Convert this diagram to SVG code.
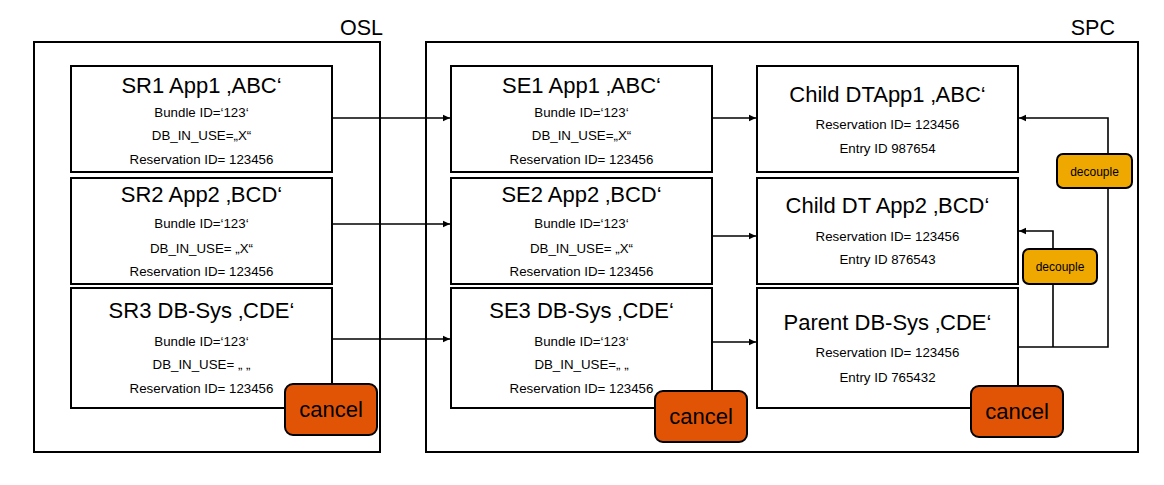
<svg xmlns="http://www.w3.org/2000/svg" width="1164" height="485" viewBox="0 0 1164 485">
<style>
text{font-family:"Liberation Sans",Arial,sans-serif;fill:#000}
.frame{fill:none;stroke:#000;stroke-width:2}
.box{fill:#fff;stroke:#000;stroke-width:2}
.t{font-size:22px;text-anchor:middle}
.s{font-size:13.3px;text-anchor:middle}
.lbl{font-size:21.5px;text-anchor:end}
.cancel{fill:#E25405;stroke:#000;stroke-width:2}
.dec{fill:#EFA800;stroke:#000;stroke-width:2}
.ct{font-size:22px;text-anchor:middle}
.dt{font-size:12px;text-anchor:middle}
.c{fill:none;stroke:#000;stroke-width:1.6}
</style>
<defs>
<marker id="ah" markerWidth="8" markerHeight="8" refX="7" refY="4" orient="auto" markerUnits="userSpaceOnUse">
<path d="M0,0.8 L7,4 L0,7.2 z" fill="#000"/>
</marker>
</defs>
<rect width="1164" height="485" fill="#fff"/>
<g id="OSL">
<rect class="frame" x="34" y="42" width="346" height="410"/>
<text class="lbl" x="383" y="35">OSL</text>
</g>
<g id="SPC">
<rect class="frame" x="426" y="42" width="712" height="410"/>
<text class="lbl" x="1115" y="35">SPC</text>
</g>
<g id="connectors">
<line class="c" x1="332" y1="118" x2="450" y2="118" marker-end="url(#ah)"/>
<line class="c" x1="332" y1="224" x2="450" y2="224" marker-end="url(#ah)"/>
<line class="c" x1="332" y1="339" x2="450" y2="339" marker-end="url(#ah)"/>
<line class="c" x1="712" y1="118" x2="756" y2="118" marker-end="url(#ah)"/>
<line class="c" x1="712" y1="236" x2="756" y2="236" marker-end="url(#ah)"/>
<line class="c" x1="712" y1="342" x2="756" y2="342" marker-end="url(#ah)"/>
<polyline class="c" points="1018,347 1108,347 1108,118 1019,118" marker-end="url(#ah)"/>
<polyline class="c" points="1053,347 1053,231 1019,231" marker-end="url(#ah)"/>
</g>
<g id="SR1">
<rect class="box" x="71" y="66" width="261" height="106"/>
<text class="t" x="201.5" y="93">SR1 App1 ‚ABC‘</text>
<text class="s" x="201.5" y="117">Bundle ID=‘123‘</text>
<text class="s" x="201.5" y="140">DB_IN_USE=„X“</text>
<text class="s" x="201.5" y="164">Reservation ID= 123456</text>
</g>
<g id="SR2">
<rect class="box" x="71" y="178" width="261" height="106"/>
<text class="t" x="201.5" y="202">SR2 App2 ‚BCD‘</text>
<text class="s" x="201.5" y="228">Bundle ID=‘123‘</text>
<text class="s" x="201.5" y="253">DB_IN_USE= „X“</text>
<text class="s" x="201.5" y="276">Reservation ID= 123456</text>
</g>
<g id="SR3">
<rect class="box" x="71" y="288" width="261" height="120"/>
<text class="t" x="201.5" y="318">SR3 DB-Sys ‚CDE‘</text>
<text class="s" x="201.5" y="346">Bundle ID=‘123‘</text>
<text class="s" x="201.5" y="369">DB_IN_USE= „ „</text>
<text class="s" x="201.5" y="393">Reservation ID= 123456</text>
</g>
<g id="SE1">
<rect class="box" x="451" y="66" width="261" height="106"/>
<text class="t" x="581.5" y="93">SE1 App1 ‚ABC‘</text>
<text class="s" x="581.5" y="117">Bundle ID=‘123‘</text>
<text class="s" x="581.5" y="140">DB_IN_USE=„X“</text>
<text class="s" x="581.5" y="164">Reservation ID= 123456</text>
</g>
<g id="SE2">
<rect class="box" x="451" y="178" width="261" height="106"/>
<text class="t" x="581.5" y="202">SE2 App2 ‚BCD‘</text>
<text class="s" x="581.5" y="228">Bundle ID=‘123‘</text>
<text class="s" x="581.5" y="253">DB_IN_USE= „X“</text>
<text class="s" x="581.5" y="276">Reservation ID= 123456</text>
</g>
<g id="SE3">
<rect class="box" x="451" y="288" width="261" height="120"/>
<text class="t" x="581.5" y="318">SE3 DB-Sys ‚CDE‘</text>
<text class="s" x="581.5" y="346">Bundle ID=‘123‘</text>
<text class="s" x="581.5" y="369">DB_IN_USE=„ „</text>
<text class="s" x="581.5" y="393">Reservation ID= 123456</text>
</g>
<g id="Child1">
<rect class="box" x="757" y="66" width="261" height="106"/>
<text class="t" x="887.5" y="102">Child DTApp1 ‚ABC‘</text>
<text class="s" x="887.5" y="129">Reservation ID= 123456</text>
<text class="s" x="887.5" y="153">Entry ID 987654</text>
</g>
<g id="Child2">
<rect class="box" x="757" y="178" width="261" height="106"/>
<text class="t" x="887.5" y="213">Child DT App2 ‚BCD‘</text>
<text class="s" x="887.5" y="241">Reservation ID= 123456</text>
<text class="s" x="887.5" y="264">Entry ID 876543</text>
</g>
<g id="Parent">
<rect class="box" x="757" y="288" width="261" height="120"/>
<text class="t" x="887.5" y="330">Parent DB-Sys ‚CDE‘</text>
<text class="s" x="887.5" y="357">Reservation ID= 123456</text>
<text class="s" x="887.5" y="382">Entry ID 765432</text>
</g>
<g id="decouple1">
<rect class="dec" x="1057" y="154" width="75" height="34" rx="6"/>
<text class="dt" x="1094.5" y="176">decouple</text>
</g>
<g id="decouple2">
<rect class="dec" x="1023" y="249" width="74" height="35" rx="6"/>
<text class="dt" x="1060" y="271">decouple</text>
</g>
<g id="cancel1">
<rect class="cancel" x="285" y="384" width="92" height="51" rx="8"/>
<text class="ct" x="331" y="417">cancel</text>
</g>
<g id="cancel2">
<rect class="cancel" x="655" y="391" width="92" height="51" rx="8"/>
<text class="ct" x="701" y="424">cancel</text>
</g>
<g id="cancel3">
<rect class="cancel" x="971" y="386" width="92" height="51" rx="8"/>
<text class="ct" x="1017" y="419">cancel</text>
</g>
</svg>
